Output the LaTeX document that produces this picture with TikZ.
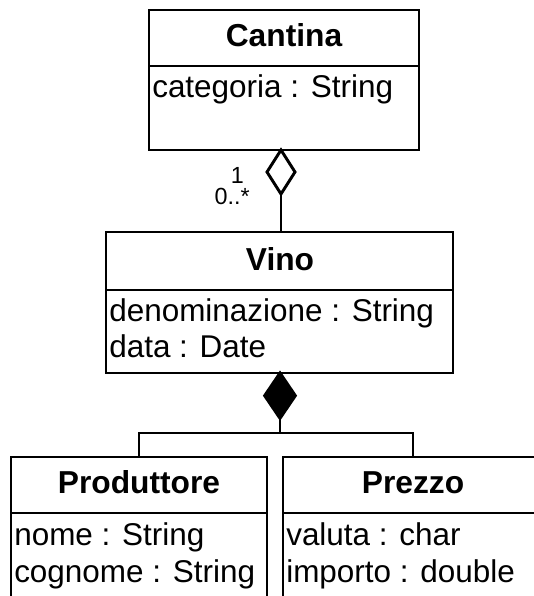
\documentclass[tikz,border=0pt]{standalone}
\usepackage{fontspec}
\setmainfont{Liberation Sans}
\usetikzlibrary{shapes.geometric,fit}
\begin{document}
\begin{tikzpicture}[x=0.75pt,y=-0.75pt,
  classbox/.style={draw,line width=2.2pt,rectangle,inner sep=0pt,outer sep=0pt},
  ctitle/.style={font=\fontsize{23.8}{28}\selectfont\bfseries,anchor=base,inner sep=0pt},
  attr/.style={font=\fontsize{23.6}{28}\selectfont,anchor=base west,inner sep=0pt},
  mult/.style={font=\fontsize{17.5}{20}\selectfont,anchor=base east,inner sep=0pt},
  conn/.style={line width=2.2pt},
  aggdiamond/.style={diamond,draw,fill=white,line width=2.2pt,inner sep=0pt,outer sep=0pt,minimum width=21pt,minimum height=33pt},
  compdiamond/.style={diamond,draw,fill=black,line width=2.2pt,inner sep=0pt,outer sep=0pt,minimum width=23pt,minimum height=34pt}
]
\useasboundingbox (0,0) rectangle (533,596);
% class boxes
\node[classbox,fit={(149,10) (419,150)}] (cantina) {};
\node[classbox,fit={(106,232) (453,373)}] (vino) {};
\node[classbox,fit={(11,457) (267,620)}] (prod) {};
\node[classbox,fit={(283,457) (543,620)}] (prezzo) {};
% dividers
\draw[conn] (cantina.west |- 0,66) -- (cantina.east |- 0,66);
\draw[conn] (vino.west |- 0,290) -- (vino.east |- 0,290);
\draw[conn] (prod.west |- 0,513) -- (prod.east |- 0,513);
\draw[conn] (prezzo.west |- 0,513) -- (prezzo.east |- 0,513);
% texts
\node[ctitle] (tcantina) at (284,46) {Cantina};
\node[attr] (acat) at (152,97) {categoria : String};
\node[ctitle] (tvino) at (280,270) {Vino};
\node[attr] (aden) at (109,321) {denominazione : String};
\node[attr] (adata) at (109,357) {data : Date};
\node[ctitle] (tprod) at (139,493) {Produttore};
\node[attr] (anome) at (14,545) {nome : String};
\node[attr] (acog) at (14,582) {cognome : String};
\node[ctitle] (tprezzo) at (413,493) {Prezzo};
\node[attr] (aval) at (286,545) {valuta : char};
\node[attr] (aimp) at (286,582) {importo : double};
% aggregation
\node[aggdiamond,anchor=north] (agg) at (281,150) {};
\draw[conn] (agg.south) -- (agg.south |- vino.north);
\node[mult] (m1) at (244,183) {1};
\node[mult] (m2) at (250,204) {0..*};
% composition
\node[compdiamond,anchor=north] (comp) at (280,373) {};
\coordinate (split) at (comp.south |- 0,433);
\draw[conn] (comp.south) -- (split) -| (prod.north);
\draw[conn] (split) -| (prezzo.north);
\end{tikzpicture}
\end{document}
